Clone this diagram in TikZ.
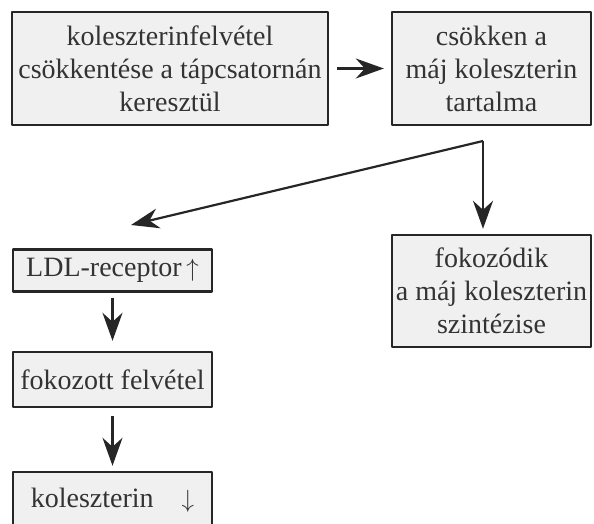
\documentclass[tikz,border=0pt]{standalone}
\usepackage{fontspec}
\setmainfont{Liberation Serif}
\usetikzlibrary{arrows.meta}
\tikzset{
  doboz/.style={draw=black!85, line width=2.4pt, fill=gray!12, text=black!80,
    align=center, inner sep=2pt, font=\fontsize{28}{33}\selectfont},
  nyil/.style={-{Stealth[length=28pt,width=20pt,inset=9pt]}, line width=2.2pt, draw=black!85}
}
\begin{document}
\begin{tikzpicture}[x=1pt, y=-1pt, line join=round]
\useasboundingbox (0,0) rectangle (594,524);
\node[doboz, minimum width=316pt, minimum height=113pt] (felvetel) at (170,68.5)
  {koleszterinfelvétel\\csökkentése a tápcsatornán\\keresztül};
\node[doboz, minimum width=199pt, minimum height=113pt] (csokken) at (491.5,68.5)
  {csökken a\\máj koleszterin\\tartalma};
\node[doboz, minimum width=199pt, minimum height=42pt] (ldl) at (112.5,270.5)
  {LDL-receptor\,$\uparrow$};
\node[doboz, minimum width=199pt, minimum height=55pt] (fokfelv) at (112.5,379.5)
  {fokozott felvétel};
\node[doboz, minimum width=199pt, minimum height=56pt] (kol) at (112.5,500)
  {koleszterin\quad$\downarrow$};
\node[doboz, minimum width=199pt, minimum height=112pt] (szint) at (491.5,291)
  {fokozódik\\a máj koleszterin\\szintézise};
\coordinate (elag) at (483,141);
\coordinate (balveg) at (131,225);
% nyilak
\draw[nyil, shorten <=8pt, shorten >=7pt] (felvetel) -- (csokken);
\draw[nyil] (elag) -- (balveg);
\draw[nyil, shorten >=5pt] (elag) -- (elag |- szint.north);
\draw[nyil, shorten <=5pt, shorten >=10pt] (ldl) -- (fokfelv);
\draw[nyil, shorten <=8pt, shorten >=5pt] (fokfelv) -- (kol);
\end{tikzpicture}
\end{document}
